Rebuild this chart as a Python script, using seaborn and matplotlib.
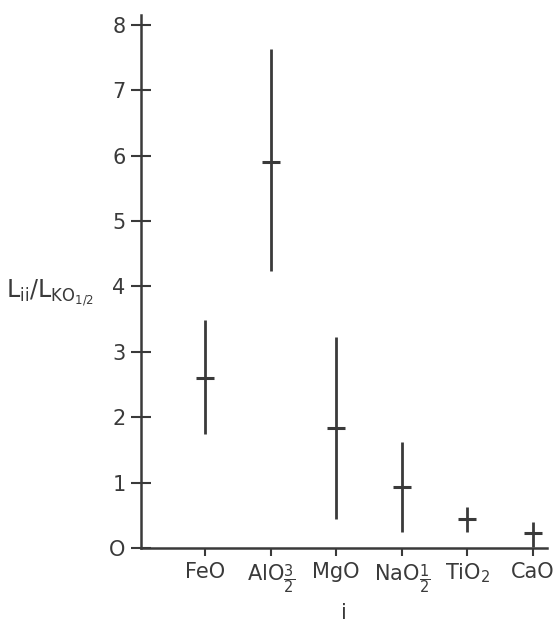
import matplotlib

matplotlib.use("Agg")

import matplotlib.pyplot as plt
import pandas as pd
import seaborn as sns

# ------------------------------------------------------------
# Data
# ------------------------------------------------------------
oxides = ["FeO", r"AlO$_{\dfrac{3}{2}}$", "MgO", r"NaO$_{\dfrac{1}{2}}$", r"TiO$_2$", "CaO"]
positions = [1, 2, 3, 4, 5, 6]
center = [2.60, 5.91, 1.84, 0.93, 0.44, 0.23]
low = [1.74, 4.24, 0.44, 0.24, 0.25, 0.02]
high = [3.48, 7.63, 3.22, 1.62, 0.63, 0.40]
y_ticks = [0, 1, 2, 3, 4, 5, 6, 7, 8]
y_ticklabels = ["O", "1", "2", "3", "4", "5", "6", "7", "8"]

sns.set_style("ticks")
plt.rcParams["font.family"] = ["DejaVu Sans"]
plt.rcParams["mathtext.fontset"] = "dejavusans"

ink = "#3a3a3a"
df = pd.DataFrame({"pos": positions, "center": center, "low": low, "high": high})

fig = plt.figure(figsize=(5.55, 6.27), dpi=100)
ax = fig.add_axes([0.254, 0.126, 0.732, 0.850])

# ranges
ax.vlines(df["pos"], df["low"], df["high"], color=ink, linewidth=2.0)
# central values
sns.scatterplot(data=df, x="pos", y="center", marker="_", s=150,
                color=ink, linewidth=2.2, ax=ax, legend=False)

ax.set_xlim(0.02, 6.22)
ax.set_ylim(0, 8.15)
ax.set_xticks(positions)
ax.set_xticklabels(oxides, fontsize=15, va="top")
ax.set_yticks(y_ticks)
ax.set_yticklabels(y_ticklabels, fontsize=15)

ax.tick_params(axis="y", direction="inout", length=14, width=1.5, color=ink,
               labelcolor=ink, pad=4)
ax.tick_params(axis="x", direction="out", length=6, width=1.5, color=ink,
               labelcolor=ink, pad=4)

for side in ["top", "right"]:
    ax.spines[side].set_visible(False)
for side in ["left", "bottom"]:
    ax.spines[side].set_color(ink)
    ax.spines[side].set_linewidth(1.8)

ax.set_xlabel("i", fontsize=15, color=ink, labelpad=6)
ax.set_ylabel(r"L$_{\rm ii}$/L$_{\rm KO_{1/2}}$", fontsize=17, color=ink,
              rotation=0, ha="right", va="center")
ax.yaxis.set_label_coords(-0.115, 0.48)

fig.savefig("out.png", dpi=100)
